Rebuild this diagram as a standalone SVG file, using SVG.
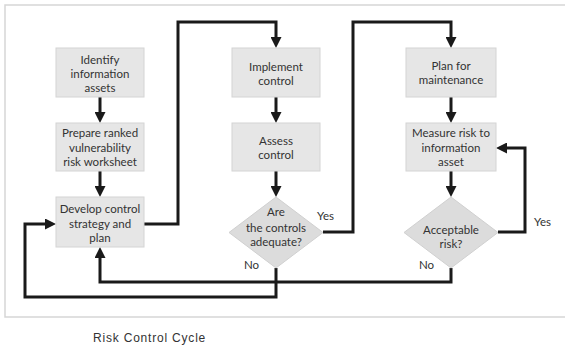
<svg xmlns="http://www.w3.org/2000/svg" width="565" height="347" viewBox="0 0 565 347">
<style>
.box{fill:#e6e6e6;stroke:#d4d4d4;stroke-width:1}
.dia{fill:#dcdcdc;stroke:#d0d0d0;stroke-width:1}
.t{font-family:Lato,"Open Sans",sans-serif;font-size:11.5px;fill:#333;text-anchor:middle}
.l{font-family:Lato,"Open Sans",sans-serif;font-size:11.5px;fill:#333}
.c{fill:none;stroke:#1a1a1a;stroke-width:3;stroke-linejoin:miter}
.cap{font-family:"Liberation Sans",Arial,sans-serif;font-size:12px;letter-spacing:0.8px;fill:#333}
</style>
<defs>
<marker id="ah" viewBox="0 0 11 11" refX="2" refY="5.5" markerWidth="11" markerHeight="11" markerUnits="userSpaceOnUse" orient="auto">
<path d="M0,0 L11,5.5 L0,11 z" fill="#1a1a1a"/>
</marker>
</defs>
<rect width="565" height="347" fill="#fff"/>
<path d="M565,5 H5 V317 H565" fill="none" stroke="#d6d6d6" stroke-width="1.5"/>

<g id="connectors">
<path class="c" d="M100,97 V114" marker-end="url(#ah)"/>
<path class="c" d="M100,171 V188" marker-end="url(#ah)"/>
<path class="c" d="M144,224 H178 V22 H276 V39" marker-end="url(#ah)"/>
<path class="c" d="M276,97 V114" marker-end="url(#ah)"/>
<path class="c" d="M276,171 V188" marker-end="url(#ah)"/>
<path class="c" d="M323,232 H353 V22 H451 V39" marker-end="url(#ah)"/>
<path class="c" d="M451,97 V114" marker-end="url(#ah)"/>
<path class="c" d="M451,171 V188" marker-end="url(#ah)"/>
<path class="c" d="M498,232 H525 V148 H505" marker-end="url(#ah)"/>
<path class="c" d="M451,268 V282 H100 V256" marker-end="url(#ah)"/>
<path class="c" d="M276,268 V297 H25 V224 H47" marker-end="url(#ah)"/>
</g>

<g id="identify">
<rect class="box" x="56" y="48" width="88" height="49"/>
<text class="t" x="100" y="64">Identify</text>
<text class="t" x="100" y="78">information</text>
<text class="t" x="100" y="92">assets</text>
</g>
<g id="prepare">
<rect class="box" x="56" y="123" width="88" height="48"/>
<text class="t" x="100" y="137">Prepare ranked</text>
<text class="t" x="100" y="151.5">vulnerability</text>
<text class="t" x="100" y="166">risk worksheet</text>
</g>
<g id="develop">
<rect class="box" x="56" y="197" width="88" height="50"/>
<text class="t" x="100" y="213">Develop control</text>
<text class="t" x="100" y="227.5">strategy and</text>
<text class="t" x="100" y="242">plan</text>
</g>
<g id="implement">
<rect class="box" x="232" y="48" width="88" height="49"/>
<text class="t" x="276" y="71">Implement</text>
<text class="t" x="276" y="85">control</text>
</g>
<g id="assess">
<rect class="box" x="232" y="123" width="88" height="48"/>
<text class="t" x="276" y="145">Assess</text>
<text class="t" x="276" y="159">control</text>
</g>
<g id="adequate">
<polygon class="dia" points="276,197 323,232.5 276,268 229,232.5"/>
<text class="t" x="276" y="216">Are</text>
<text class="t" x="276" y="232">the controls</text>
<text class="t" x="276" y="246">adequate?</text>
<text class="l" x="317" y="220">Yes</text>
<text class="l" x="244" y="269">No</text>
</g>
<g id="plan">
<rect class="box" x="406" y="48" width="90" height="49"/>
<text class="t" x="451" y="70">Plan for</text>
<text class="t" x="451" y="84">maintenance</text>
</g>
<g id="measure">
<rect class="box" x="406" y="123" width="90" height="48"/>
<text class="t" x="451" y="137">Measure risk to</text>
<text class="t" x="451" y="152">information</text>
<text class="t" x="451" y="166">asset</text>
</g>
<g id="acceptable">
<polygon class="dia" points="451,197 498,232.5 451,268 404,232.5"/>
<text class="t" x="451" y="234">Acceptable</text>
<text class="t" x="451" y="248">risk?</text>
<text class="l" x="534" y="226">Yes</text>
<text class="l" x="419" y="269">No</text>
</g>
<text class="cap" x="93" y="342">Risk Control Cycle</text>
</svg>
